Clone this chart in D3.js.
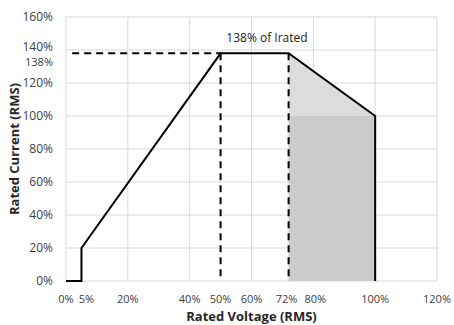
<!DOCTYPE html>
<html>
<head>
<meta charset="utf-8">
<title>Rated Current vs Rated Voltage</title>
<script src="https://d3js.org/d3.v7.min.js"></script>
<style>
    body { margin: 0; background: white; }
    text { font-family: "Open Sans", "Liberation Sans", sans-serif; }
</style>
</head>
<body>
<div id="chart"></div>
<script>
// curve points (voltage %, current %)
var curveV = [0, 5, 5, 50, 72, 100, 100];
var curveI = [0, 0, 20, 138, 138, 100, 0];
// shaded region
var shadeV = [72, 100];
var shadeTop = [138, 100];
var shadeBase = 100;
// dashed guides
var guideV = [50, 72];
var guideI = 138;
var xTicks = [0, 5, 20, 40, 50, 60, 72, 80, 100, 120];
var yTicks = [0, 20, 40, 60, 80, 100, 120, 140, 160];
var xGrid = [0, 20, 40, 60, 80, 100, 120];
var annotation = "138% of Irated";

var width = 454, height = 325;
var margin = {left: 66, right: 17, top: 17, bottom: 44};

var svg = d3.select("#chart").append("svg")
    .attr("width", width)
    .attr("height", height);

var x = d3.scaleLinear().domain([0, 120]).range([margin.left, width - margin.right]);
var y = d3.scaleLinear().domain([0, 160]).range([height - margin.bottom, margin.top]);

// grid
svg.append("g").selectAll("line").data(yTicks).enter().append("line")
    .attr("x1", x(0)).attr("x2", x(120))
    .attr("y1", d => y(d)).attr("y2", d => y(d))
    .attr("stroke", "#d9d9d9").attr("stroke-width", 1);
svg.append("g").selectAll("line").data(xGrid).enter().append("line")
    .attr("x1", d => x(d)).attr("x2", d => x(d))
    .attr("y1", y(0)).attr("y2", y(160))
    .attr("stroke", "#d9d9d9").attr("stroke-width", 1);

// shaded area: lighter triangle above 100%, darker rectangle below
svg.append("path")
    .attr("d", d3.line()([[x(shadeV[0]), y(shadeTop[0])], [x(shadeV[1]), y(shadeTop[1])], [x(shadeV[0]), y(shadeBase)]]))
    .attr("fill", "#dcdcdc");
svg.append("rect")
    .attr("x", x(shadeV[0])).attr("y", y(shadeBase))
    .attr("width", x(shadeV[1]) - x(shadeV[0]))
    .attr("height", y(0) - y(shadeBase))
    .attr("fill", "#cbcbcb");

// dashed guides
svg.append("line")
    .attr("x1", x(2)).attr("x2", x(guideV[0]))
    .attr("y1", y(guideI)).attr("y2", y(guideI))
    .attr("stroke", "black").attr("stroke-width", 2).attr("stroke-dasharray", "7,5");
svg.append("g").selectAll("line").data(guideV).enter().append("line")
    .attr("x1", d => x(d)).attr("x2", d => x(d))
    .attr("y1", y(guideI)).attr("y2", y(0))
    .attr("stroke", "black").attr("stroke-width", 2).attr("stroke-dasharray", "7,5");

// main curve
var pts = curveV.map((v, i) => [x(v), y(curveI[i])]);
svg.append("path")
    .attr("d", d3.line()(pts))
    .attr("fill", "none")
    .attr("stroke", "black")
    .attr("stroke-width", 2)
    .attr("stroke-linejoin", "miter");

// y tick labels
svg.append("g").selectAll("text").data(yTicks).enter().append("text")
    .attr("x", margin.left - 13)
    .attr("y", d => y(d) + (d == 140 ? 1 : 4))
    .attr("text-anchor", "end")
    .attr("font-size", 12)
    .attr("fill", "#404040")
    .text(d => d + "%");
svg.append("text")
    .attr("x", margin.left - 13)
    .attr("y", y(guideI) + 13)
    .attr("text-anchor", "end")
    .attr("font-size", 11)
    .attr("fill", "#404040")
    .text(guideI + "%");

// x tick labels (a few nudged so neighbours don't collide)
var nudge = {5: 5, 72: -2, 80: 2};
svg.append("g").selectAll("text").data(xTicks).enter().append("text")
    .attr("x", d => x(d) + (nudge[d] || 0))
    .attr("y", y(0) + 22)
    .attr("text-anchor", "middle")
    .attr("font-size", 11)
    .attr("fill", "#404040")
    .text(d => d + "%");

// annotation
svg.append("text")
    .attr("x", x(65))
    .attr("y", y(147) + 4)
    .attr("text-anchor", "middle")
    .attr("font-size", 12)
    .attr("fill", "#222")
    .text(annotation);

// axis titles
svg.append("text")
    .attr("x", x(60))
    .attr("y", height - 4)
    .attr("text-anchor", "middle")
    .attr("font-size", 13)
    .attr("font-weight", "bold")
    .attr("fill", "#262626")
    .text("Rated Voltage (RMS)");
svg.append("text")
    .attr("transform", "translate(19," + y(80) + ") rotate(-90)")
    .attr("text-anchor", "middle")
    .attr("font-size", 13)
    .attr("font-weight", "bold")
    .attr("fill", "#262626")
    .text("Rated Current (RMS)");
</script>
</body>
</html>
